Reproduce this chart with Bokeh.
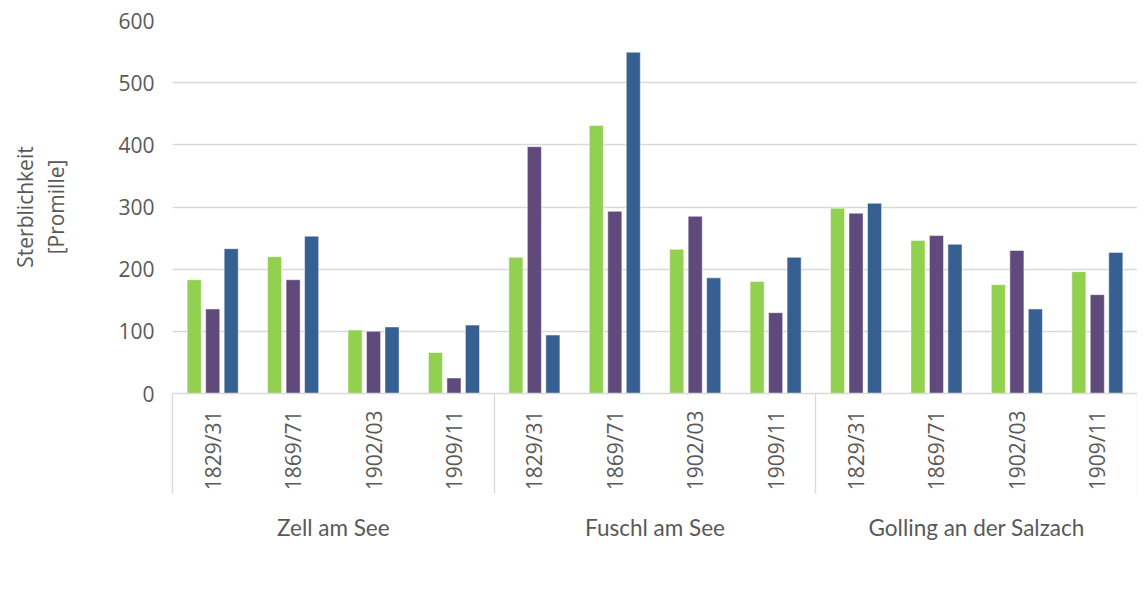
import math
from bokeh.plotting import figure
from bokeh.models import ColumnDataSource, Legend, LegendItem, FixedTicker, LinearAxis, Range1d
from bokeh.transform import dodge
from bokeh.embed import file_html
from bokeh.resources import INLINE

groups = ["Zell am See", "Fuschl am See", "Golling an der Salzach"]
periods = ["1829/31", "1869/71", "1902/03", "1909/11"]
gesamt = [183, 220, 102, 66, 219, 431, 232, 180, 298, 246, 175, 196]
weiblich = [136, 183, 100, 25, 397, 293, 285, 130, 290, 254, 230, 159]
maennlich = [233, 253, 107, 110, 94, 549, 186, 219, 306, 240, 136, 227]
series_names = ["Gesamtpopulation", "weiblich", "männlich"]
series_colors = ["#92D050", "#604A7B", "#376092"]
y_ticks = [0, 100, 200, 300, 400, 500, 600]

n_per = len(periods)
n_cat = len(groups) * n_per
# each category occupies 2 units on the x scale: centres at odd integers
cat_x = [2 * i + 1 for i in range(n_cat)]
period_labels = {2 * i + 1: periods[i % n_per] for i in range(n_cat)}
group_centers = {2 * n_per * j + n_per: g for j, g in enumerate(groups)}
group_bounds = [2 * n_per * j for j in range(len(groups) + 1)]

src = ColumnDataSource(dict(x=cat_x, g=gesamt, w=weiblich, m=maennlich))

TXT = "#595959"
GRID = "#d9d9d9"

p = figure(
    x_range=Range1d(0, 2 * n_cat),
    y_range=(0, 600),
    frame_width=965, frame_height=373,
    min_border_left=172, min_border_top=20, min_border_right=0, min_border_bottom=0,
    output_backend="svg", toolbar_location=None,
)
p.outline_line_color = None
p.background_fill_color = "white"

renderers = []
for col, off, color in zip(["g", "w", "m"], [-0.46, 0.0, 0.46], series_colors):
    r = p.vbar(x=dodge("x", off), top=col, width=0.35, source=src,
               fill_color=color, line_color="white", line_width=0.8, line_alpha=0.6)
    renderers.append(r)

# grid
p.xgrid.grid_line_color = None
p.ygrid.grid_line_color = GRID
p.ygrid.grid_line_width = 1.3

# y axis
yax = p.yaxis[0]
yax.ticker = FixedTicker(ticks=y_ticks)
yax.axis_line_color = None
yax.major_tick_line_color = None
yax.minor_tick_line_color = None
yax.major_tick_out = 0
yax.major_tick_in = 0
yax.major_label_standoff = 18
yax.major_label_text_font = "Open Sans"
yax.major_label_text_font_size = "21px"
yax.major_label_text_color = TXT
yax.axis_label = "Sterblichkeit\n[Promille]"
yax.axis_label_text_font = "Open Sans"
yax.axis_label_text_font_size = "21px"
yax.axis_label_text_font_style = "normal"
yax.axis_label_text_color = TXT
yax.axis_label_text_line_height = 1.12
yax.axis_label_standoff = 45

# x axis 1: periods (rotated)
xax = p.xaxis[0]
xax.ticker = FixedTicker(ticks=cat_x)
xax.major_label_overrides = period_labels
xax.axis_line_color = GRID
xax.axis_line_width = 1.3
xax.major_tick_line_color = None
xax.major_tick_out = 0
xax.major_tick_in = 0
xax.minor_tick_line_color = None
xax.minor_tick_out = 0
xax.minor_tick_in = 0
xax.major_label_orientation = math.pi / 2
xax.major_label_standoff = 17
xax.major_label_text_font = "Open Sans"
xax.major_label_text_font_size = "21px"
xax.major_label_text_color = TXT

# x axis 2: group names; separators as minor ticks at group bounds reaching up
gax = LinearAxis(
    ticker=FixedTicker(ticks=list(group_centers.keys()), minor_ticks=group_bounds),
    major_label_overrides=group_centers,
)
gax.axis_line_color = None
gax.major_tick_line_color = None
gax.major_tick_out = 0
gax.major_tick_in = 0
gax.minor_tick_line_color = GRID
gax.minor_tick_line_width = 1.3
gax.minor_tick_out = 0
gax.minor_tick_in = 100
gax.major_label_orientation = "horizontal"
gax.major_label_standoff = 20
gax.major_label_text_font = "Lato"
gax.major_label_text_font_size = "22.5px"
gax.major_label_text_color = TXT
p.add_layout(gax, "below")

legend = Legend(
    items=[LegendItem(label=n, renderers=[r]) for n, r in zip(series_names, renderers)],
    orientation="horizontal", location=(175, 0),
    border_line_color=None, background_fill_alpha=0,
    label_text_font="Lato", label_text_font_size="22.5px", label_text_color=TXT,
    glyph_width=13, glyph_height=13, label_standoff=6, spacing=30,
    label_height=27, margin=11, padding=0,
)
p.add_layout(legend, "below")

open("out.html", "w").write(file_html(p, INLINE))
